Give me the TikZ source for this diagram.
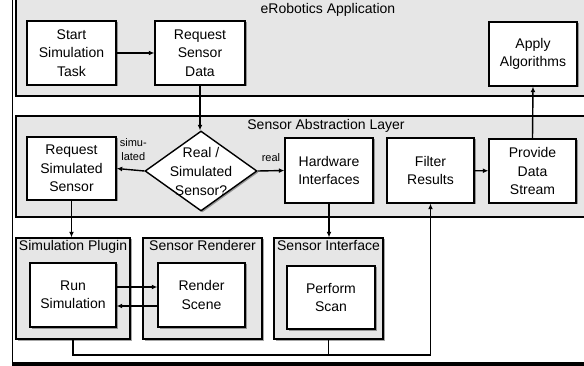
\documentclass[tikz,border=0pt]{standalone}
\usepackage{fontspec}
\setmainfont{Liberation Sans}
\usepackage{tikz}
\usetikzlibrary{shapes.geometric,arrows.meta,positioning,calc,shadows}
\definecolor{layergray}{RGB}{230,230,230}

\tikzset{
    box/.style={draw=black, line width=1.4pt, fill=white, align=center, inner sep=0pt,
        font=\fontsize{14}{18.5}\selectfont,
        drop shadow={shadow xshift=1.5pt, shadow yshift=-1.5pt, fill=black, opacity=0.35}},
    group/.style={draw=black, line width=1.4pt, fill=layergray, inner sep=0pt,
        drop shadow={shadow xshift=1.5pt, shadow yshift=-1.5pt, fill=black, opacity=0.35}},
    layer/.style={draw=black, line width=1.4pt, fill=layergray, inner sep=0pt},
    grouplbl/.style={anchor=north, inner sep=3pt, font=\fontsize{14}{16}\selectfont},
    arr/.style={-{Latex[length=5.5pt,width=5pt]}, line width=1.4pt},
    line/.style={line width=1.4pt},
    small/.style={font=\fontsize{11}{14}\selectfont, align=center}
}

\begin{document}
\begin{tikzpicture}[x=1pt,y=-1pt]
    \clip (0,0) rectangle (584,366);

    % layers
    \node[layer, minimum width=584pt, minimum height=101pt] (app) at (308,45.5) {};
    \node[font=\fontsize{14}{16}\selectfont] (apptitle) at (328,10) {eRobotics Application};
    \node[layer, minimum width=584pt, minimum height=101pt] (sal) at (308,166.5) {};
    \node[font=\fontsize{14}{16}\selectfont] (saltitle) at (326,126) {Sensor Abstraction Layer};

    % components
    \node[group, minimum width=114pt, minimum height=101pt,
          label={[grouplbl]north:Simulation Plugin}] (simplugin) at (73,288.5) {};
    \node[group, minimum width=119pt, minimum height=101pt,
          label={[grouplbl]north:Sensor Renderer}] (renderer) at (202.5,288.5) {};
    \node[group, minimum width=109pt, minimum height=101pt,
          label={[grouplbl]north:Sensor Interface}] (sensorif) at (328.5,288.5) {};

    % tasks
    \node[box, minimum width=89pt, minimum height=64pt] (start) at (71.5,53) {Start\\Simulation\\Task};
    \node[box, minimum width=90pt, minimum height=64pt] (reqdata) at (200,53) {Request\\Sensor\\Data};
    \node[box, minimum width=88pt, minimum height=64pt] (apply) at (533,54) {Apply\\Algorithms};

    \node[box, minimum width=89pt, minimum height=63pt] (reqsim) at (71.5,168.5) {Request\\Simulated\\Sensor};
    \node[diamond, draw=black, line width=1.4pt, fill=white, inner sep=0pt,
          minimum width=112pt, minimum height=80pt,
          drop shadow={shadow xshift=1.5pt, shadow yshift=-1.5pt, fill=black, opacity=0.35},
          label={[align=center, font=\fontsize{14}{19}\selectfont]center:Real /\\Simulated\\Sensor?}] (realsim) at (201,171) {};
    \node[box, minimum width=88pt, minimum height=65pt] (hw) at (329,170.5) {Hardware\\Interfaces};
    \node[box, minimum width=87pt, minimum height=65pt] (filter) at (430.5,170.5) {Filter\\Results};
    \node[box, minimum width=87pt, minimum height=64pt] (provide) at (532.5,171) {Provide\\Data\\Stream};

    \node[box, minimum width=86pt, minimum height=64pt] (runsim) at (73,295) {Run\\Simulation};
    \node[box, minimum width=87pt, minimum height=64pt] (render) at (201.5,295) {Render\\Scene};
    \node[box, minimum width=88pt, minimum height=63pt] (scan) at (331,297.5) {Perform\\Scan};

    \coordinate (bus) at (200,355);

    % connectors
    \draw[arr] (start) -- (reqdata);
    \draw[arr] (reqdata.south) -- (reqdata.south |- realsim.north);
    \draw[arr] (realsim.west) -- node[small, pos=0.4, above, inner sep=9pt] {simu-\\lated} (reqsim.east);
    \draw[arr] (realsim.east) -- node[small, above, inner sep=8pt] {real} (hw.west);
    \draw[arr] (reqsim.south) -- (reqsim.south |- simplugin.north);
    \draw[arr] (hw.south) -- (hw.south |- sensorif.north);
    \draw[arr] (filter) -- (provide);
    \draw[arr] (provide.north) -- (apply.south);
    \draw[arr] ([yshift=8pt]runsim.east) -- ([yshift=8pt]render.west);
    \draw[arr] ([yshift=-11pt]render.west) -- ([yshift=-11pt]runsim.east);
    \draw[arr] (simplugin.south) -- (simplugin.south |- bus) -| (filter.south);
    \draw[line] (sensorif.south) -- (sensorif.south |- bus);

    % frame
    \draw[line width=0.8pt] (12,0) -- (12,366);
    \fill[black] (12,362) rectangle (584,366);
\end{tikzpicture}
\end{document}
